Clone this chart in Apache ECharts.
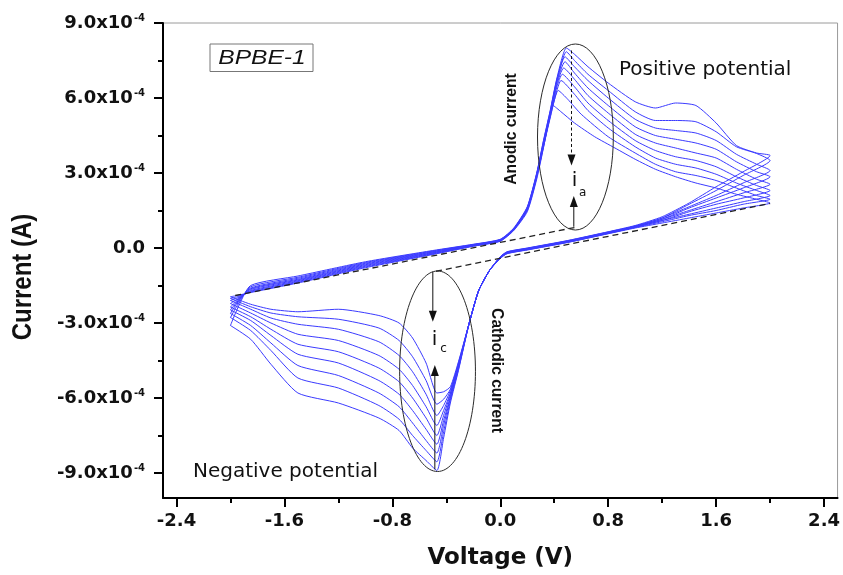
<!DOCTYPE html>
<html>
<head>
<meta charset="utf-8">
<script src="https://cdn.jsdelivr.net/npm/echarts@6.0.0/dist/echarts.min.js"></script>
<style>
html,body{margin:0;padding:0;background:#fff;}
#chart{width:843px;height:575px;}
</style>
</head>
<body>
<div id="chart"></div>
<script>
// Current values are in units of 1e-4 A; voltage in V.
// Each cycle is a closed loop in scan order: left vertex -> anodic sweep -> right vertex -> cathodic sweep -> left vertex.
const cycle1 = [[-2.0,-3.1],[-1.95,-2.45],[-1.85,-1.5],[-1.5,-1.12],[-1.0,-0.55],[-0.5,-0.1],[-0.2,0.15],[0.0,0.35],[0.1,0.8],[0.2,1.65],[0.27,3.0],[0.32,4.3],[0.37,5.5],[0.42,6.8],[0.49,8.0],
  [0.55,7.75],[0.65,7.25],[0.8,6.6],[1.0,5.85],[1.15,5.6],[1.3,5.8],[1.45,5.7],[1.6,5.0],[1.75,4.1],[1.9,3.8],[2.0,3.7],
  [1.8,3.05],[1.6,2.45],[1.4,1.8],[1.2,1.25],[1.0,0.9],[0.8,0.65],[0.5,0.3],[0.2,0.0],[0.05,-0.15],[0.0,-0.35],[-0.08,-0.9],[-0.16,-1.7],[-0.23,-3.0],[-0.31,-4.9],[-0.37,-6.2],[-0.42,-7.6],[-0.47,-8.9],
  [-0.55,-8.5],[-0.65,-8.0],[-0.75,-7.3],[-0.9,-6.8],[-1.2,-6.2],[-1.5,-5.8],[-1.7,-4.65],[-1.85,-3.65],[-2.0,-3.1]];
const cycle2 = [[-2.0,-2.78],[-1.95,-2.3],[-1.85,-1.55],[-1.5,-1.17],[-1.0,-0.58],[-0.5,-0.12],[-0.2,0.14],[0.0,0.34],[0.1,0.78],[0.2,1.63],[0.27,2.98],[0.32,4.27],[0.37,5.47],[0.42,6.75],[0.49,7.85],
  [0.55,7.5],[0.65,6.95],[0.8,6.3],[1.0,5.45],[1.15,5.1],[1.3,5.1],[1.45,5.05],[1.6,4.65],[1.75,4.05],[1.9,3.78],[2.0,3.5],
  [1.8,2.9],[1.6,2.3],[1.4,1.75],[1.2,1.2],[1.0,0.88],[0.8,0.64],[0.5,0.29],[0.2,-0.01],[0.05,-0.16],[0.0,-0.35],[-0.08,-0.9],[-0.16,-1.7],[-0.23,-3.0],[-0.31,-4.85],[-0.37,-6.1],[-0.42,-7.35],[-0.47,-8.55],
  [-0.55,-8.1],[-0.65,-7.5],[-0.75,-6.85],[-0.9,-6.3],[-1.2,-5.6],[-1.5,-5.2],[-1.7,-4.1],[-1.85,-3.3],[-2.0,-2.78]];
const cycle3 = [[-2.0,-2.62],[-1.95,-2.2],[-1.85,-1.6],[-1.5,-1.21],[-1.0,-0.61],[-0.5,-0.14],[-0.2,0.13],[0.0,0.33],[0.1,0.77],[0.2,1.6],[0.27,2.95],[0.32,4.22],[0.37,5.42],[0.42,6.7],[0.48,7.65],
  [0.55,7.25],[0.65,6.7],[0.8,6.0],[1.0,5.15],[1.15,4.8],[1.3,4.7],[1.45,4.6],[1.6,4.3],[1.75,3.75],[1.9,3.35],[2.0,3.1],
  [1.8,2.6],[1.6,2.1],[1.4,1.65],[1.2,1.2],[1.0,0.87],[0.8,0.63],[0.5,0.28],[0.2,-0.02],[0.05,-0.17],[0.0,-0.36],[-0.08,-0.9],[-0.16,-1.7],[-0.23,-3.0],[-0.31,-4.8],[-0.37,-6.0],[-0.42,-7.1],[-0.47,-8.2],
  [-0.55,-7.7],[-0.65,-7.0],[-0.75,-6.35],[-0.9,-5.8],[-1.2,-5.1],[-1.5,-4.7],[-1.7,-3.8],[-1.85,-3.1],[-2.0,-2.62]];
const cycle4 = [[-2.0,-2.48],[-1.95,-2.15],[-1.85,-1.63],[-1.5,-1.25],[-1.0,-0.64],[-0.5,-0.16],[-0.2,0.12],[0.0,0.32],[0.1,0.76],[0.2,1.58],[0.27,2.92],[0.32,4.18],[0.37,5.38],[0.42,6.65],[0.48,7.45],
  [0.55,7.0],[0.65,6.4],[0.8,5.7],[1.0,4.85],[1.15,4.5],[1.3,4.35],[1.45,4.2],[1.6,3.95],[1.75,3.45],[1.9,3.05],[2.0,2.85],
  [1.8,2.4],[1.6,2.0],[1.4,1.6],[1.2,1.15],[1.0,0.86],[0.8,0.62],[0.5,0.27],[0.2,-0.03],[0.05,-0.18],[0.0,-0.37],[-0.08,-0.9],[-0.16,-1.7],[-0.23,-3.0],[-0.31,-4.75],[-0.37,-5.95],[-0.42,-6.9],[-0.47,-7.85],
  [-0.55,-7.25],[-0.65,-6.5],[-0.75,-5.85],[-0.9,-5.3],[-1.2,-4.6],[-1.5,-4.25],[-1.7,-3.5],[-1.85,-2.9],[-2.0,-2.48]];
const cycle5 = [[-2.0,-2.36],[-1.95,-2.1],[-1.85,-1.66],[-1.5,-1.28],[-1.0,-0.67],[-0.5,-0.18],[-0.2,0.11],[0.0,0.31],[0.1,0.75],[0.2,1.56],[0.27,2.9],[0.32,4.14],[0.37,5.34],[0.42,6.55],[0.47,7.2],
  [0.55,6.75],[0.65,6.1],[0.8,5.4],[1.0,4.55],[1.15,4.2],[1.3,4.0],[1.45,3.8],[1.6,3.6],[1.75,3.15],[1.9,2.75],[2.0,2.55],
  [1.8,2.2],[1.6,1.85],[1.4,1.5],[1.2,1.15],[1.0,0.85],[0.8,0.61],[0.5,0.26],[0.2,-0.04],[0.05,-0.19],[0.0,-0.38],[-0.08,-0.9],[-0.16,-1.7],[-0.23,-3.0],[-0.31,-4.7],[-0.37,-5.85],[-0.42,-6.7],[-0.47,-7.5],
  [-0.55,-6.8],[-0.65,-6.0],[-0.75,-5.35],[-0.9,-4.8],[-1.2,-4.15],[-1.5,-3.85],[-1.7,-3.25],[-1.85,-2.75],[-2.0,-2.36]];
const cycle6 = [[-2.0,-2.22],[-1.95,-2.05],[-1.85,-1.7],[-1.5,-1.31],[-1.0,-0.7],[-0.5,-0.2],[-0.2,0.1],[0.0,0.3],[0.1,0.74],[0.2,1.54],[0.27,2.87],[0.32,4.1],[0.37,5.3],[0.42,6.45],[0.46,6.95],
  [0.55,6.45],[0.65,5.8],[0.8,5.1],[1.0,4.3],[1.15,3.9],[1.3,3.65],[1.45,3.5],[1.6,3.25],[1.75,2.85],[1.9,2.5],[2.0,2.3],
  [1.8,2.0],[1.6,1.75],[1.4,1.45],[1.2,1.1],[1.0,0.84],[0.8,0.6],[0.5,0.25],[0.2,-0.05],[0.05,-0.2],[0.0,-0.39],[-0.08,-0.9],[-0.16,-1.7],[-0.23,-3.0],[-0.31,-4.7],[-0.37,-5.8],[-0.42,-6.5],[-0.47,-7.1],
  [-0.55,-6.35],[-0.65,-5.5],[-0.75,-4.85],[-0.9,-4.3],[-1.2,-3.7],[-1.5,-3.45],[-1.7,-3.0],[-1.85,-2.6],[-2.0,-2.22]];
const cycle7 = [[-2.0,-2.1],[-1.95,-2.0],[-1.85,-1.73],[-1.5,-1.34],[-1.0,-0.73],[-0.5,-0.22],[-0.2,0.09],[0.0,0.29],[0.1,0.73],[0.2,1.52],[0.27,2.85],[0.32,4.06],[0.37,5.25],[0.42,6.3],[0.45,6.7],
  [0.55,6.15],[0.65,5.5],[0.8,4.8],[1.0,4.05],[1.15,3.6],[1.3,3.35],[1.45,3.2],[1.6,2.95],[1.75,2.6],[1.9,2.3],[2.0,2.1],
  [1.8,1.85],[1.6,1.6],[1.4,1.35],[1.2,1.1],[1.0,0.83],[0.8,0.59],[0.5,0.24],[0.2,-0.06],[0.05,-0.21],[0.0,-0.4],[-0.08,-0.9],[-0.16,-1.7],[-0.23,-3.0],[-0.31,-4.65],[-0.37,-5.7],[-0.42,-6.3],[-0.47,-6.7],
  [-0.55,-5.85],[-0.65,-4.95],[-0.75,-4.3],[-0.9,-3.75],[-1.2,-3.25],[-1.5,-3.05],[-1.7,-2.8],[-1.85,-2.45],[-2.0,-2.1]];
const cycle8 = [[-2.0,-2.02],[-1.95,-1.95],[-1.85,-1.76],[-1.5,-1.37],[-1.0,-0.76],[-0.5,-0.24],[-0.2,0.08],[0.0,0.28],[0.1,0.72],[0.2,1.5],[0.27,2.82],[0.32,4.03],[0.37,5.2],[0.43,6.3],
  [0.5,5.95],[0.6,5.35],[0.8,4.45],[1.0,3.8],[1.15,3.35],[1.3,3.05],[1.45,2.9],[1.6,2.7],[1.75,2.4],[1.9,2.1],[2.0,1.95],
  [1.8,1.75],[1.6,1.5],[1.4,1.3],[1.2,1.05],[1.0,0.82],[0.8,0.58],[0.5,0.23],[0.2,-0.07],[0.05,-0.22],[0.0,-0.41],[-0.08,-0.9],[-0.16,-1.7],[-0.23,-3.0],[-0.31,-4.6],[-0.37,-5.65],[-0.42,-6.05],[-0.47,-6.25],
  [-0.55,-5.3],[-0.65,-4.35],[-0.75,-3.7],[-0.9,-3.2],[-1.2,-2.85],[-1.5,-2.75],[-1.7,-2.6],[-1.85,-2.35],[-2.0,-2.02]];
const cycle9 = [[-2.0,-1.95],[-1.95,-1.9],[-1.85,-1.78],[-1.5,-1.4],[-1.0,-0.79],[-0.5,-0.26],[-0.2,0.07],[0.0,0.27],[0.1,0.7],[0.2,1.45],[0.27,2.75],[0.32,4.0],[0.36,5.1],[0.39,5.7],
  [0.45,5.45],[0.55,5.0],[0.7,4.45],[0.85,4.0],[1.0,3.55],[1.15,3.15],[1.3,2.85],[1.45,2.6],[1.6,2.4],[1.75,2.15],[1.9,1.95],[2.0,1.8],
  [1.8,1.6],[1.6,1.4],[1.4,1.2],[1.2,1.0],[1.0,0.8],[0.8,0.57],[0.5,0.22],[0.2,-0.08],[0.05,-0.23],[0.0,-0.42],[-0.08,-0.9],[-0.16,-1.7],[-0.23,-3.0],[-0.31,-4.55],[-0.37,-5.55],[-0.42,-5.75],[-0.47,-5.8],
  [-0.55,-4.6],[-0.65,-3.6],[-0.75,-3.0],[-0.9,-2.7],[-1.2,-2.45],[-1.5,-2.55],[-1.7,-2.45],[-1.85,-2.25],[-2.0,-1.95]];

// Dashed baselines used to read the peak currents
const baselineAnodic = [[-1.965,-1.9],[0.56,0.83]];
const baselineCathodic = [[-0.476,-0.93],[2.0,1.78]];

// Axis ticks
const xMajorTicks = [-2.4,-1.6,-0.8,0.0,0.8,1.6,2.4];
const xMinorTicks = [-2.0,-1.2,-0.4,0.4,1.2,2.0];
const yMajorTicks = [-9,-6,-3,0,3,6,9];
const yMinorTicks = [-7.5,-4.5,-1.5,1.5,4.5,7.5];

const cycles = [cycle1,cycle2,cycle3,cycle4,cycle5,cycle6,cycle7,cycle8,cycle9];

const chart = echarts.init(document.getElementById('chart'), null, {renderer:'canvas'});
const FONT = 'DejaVu Sans';
const TXT = '#111';

const series = cycles.map((c,i) => ({
  type:'line', name:'cycle ' + (i+1), data:c, xAxisIndex:0, yAxisIndex:0,
  symbol:'none', smooth:0.2, silent:true,
  lineStyle:{color:'#3b3bff', width:1}
}));
[baselineAnodic, baselineCathodic].forEach(b => series.push({
  type:'line', data:b, symbol:'none', silent:true, z:3,
  lineStyle:{color:'#222', width:1.3, type:[6,4]}
}));

const option = {
  backgroundColor:'#ffffff',
  animation:false,
  grid:{left:163, right:3, top:23, bottom:77, show:true, borderColor:'#9a9a9a', borderWidth:1, backgroundColor:'transparent'},
  xAxis:[{
    type:'value', min:-2.5, max:2.5, position:'bottom',
    axisLine:{show:true, onZero:false, lineStyle:{color:'#000', width:2}},
    axisTick:{show:true, inside:false, length:9, customValues:xMajorTicks, lineStyle:{color:'#000', width:2}},
    axisLabel:{customValues:xMajorTicks, margin:14, color:TXT, fontFamily:FONT, fontWeight:'bold', fontSize:18,
      formatter:v => v.toFixed(1)},
    splitLine:{show:false},
    name:'Voltage (V)', nameLocation:'middle', nameGap:49,
    nameTextStyle:{color:TXT, fontFamily:FONT, fontWeight:'bold', fontSize:23}
  },{
    type:'value', min:-2.5, max:2.5, position:'bottom',
    axisLine:{show:false, onZero:false},
    axisTick:{show:true, inside:false, length:5, customValues:xMinorTicks, lineStyle:{color:'#000', width:2}},
    axisLabel:{show:false}, splitLine:{show:false}
  }],
  yAxis:[{
    type:'value', min:-10, max:9, position:'left',
    axisLine:{show:true, onZero:false, lineStyle:{color:'#000', width:2}},
    axisTick:{show:true, inside:false, length:9, customValues:yMajorTicks, lineStyle:{color:'#000', width:2}},
    axisLabel:{customValues:yMajorTicks, margin:18, color:TXT,
      formatter:v => Math.abs(v) < 1e-9 ? '{m|0.0}' : '{m|' + v.toFixed(1) + 'x10}{s|-4}',
      rich:{
        m:{fontFamily:FONT, fontWeight:'bold', fontSize:18, color:TXT},
        s:{fontFamily:FONT, fontWeight:'bold', fontSize:10, color:TXT, verticalAlign:'top', padding:[0,0,9,1]}
      }},
    splitLine:{show:false}
  },{
    type:'value', min:-10, max:9, position:'left',
    axisLine:{show:false, onZero:false},
    axisTick:{show:true, inside:false, length:5, customValues:yMinorTicks, lineStyle:{color:'#000', width:2}},
    axisLabel:{show:false}, splitLine:{show:false}
  }],
  series:series
};
chart.setOption(option);

// ---- annotations (positioned in data coordinates) ----
const P = (x,y) => chart.convertToPixel({gridIndex:0}, [x,y]);
function ellipse(cx, cy, rx, ry){
  const c = P(cx,cy), e = P(cx+rx, cy+ry);
  return {type:'ellipse', silent:true, z:10, shape:{cx:c[0], cy:c[1], rx:Math.abs(e[0]-c[0]), ry:Math.abs(c[1]-e[1])},
    style:{fill:'none', stroke:'#2a2a2a', lineWidth:1}};
}
function arrow(x, y0, y1, dashed){
  const a = P(x,y0), b = P(x,y1);
  const dir = Math.sign(b[1]-a[1]);
  const headLen = 11, headW = 4;
  return [
    {type:'line', silent:true, z:10, shape:{x1:a[0], y1:a[1], x2:b[0], y2:b[1]-dir*headLen*0.8},
      style:{stroke:'#111', lineWidth:1, lineDash: dashed ? [3,2.5] : null}},
    {type:'polygon', silent:true, z:10, shape:{points:[[b[0]-headW, b[1]-dir*headLen],[b[0]+headW, b[1]-dir*headLen],[b[0], b[1]]]},
      style:{fill:'#111'}}
  ];
}
function txt(x, y, text, st, extra){
  return Object.assign({type:'text', silent:true, z:12, x:x, y:y,
    style:Object.assign({text:text, fill:TXT, align:'center', verticalAlign:'middle'}, st)}, extra || {});
}

const ia = P(0.558, 2.55), ic = P(-0.48, -3.75);
const graphic = [].concat(
  [ellipse(0.557, 4.44, 0.281, 3.72), ellipse(-0.465, -4.93, 0.281, 4.01)],
  arrow(0.528, 7.9, 3.3, true),
  arrow(0.545, 0.85, 2.08, false),
  arrow(-0.5, -0.95, -2.95, false),
  arrow(-0.485, -8.85, -4.68, false),
  [
    txt(ia[0]-1, ia[1]-3, 'i', {fontFamily:FONT, fontSize:20}),
    txt(ia[0]+7, ia[1]+9, 'a', {fontFamily:FONT, fontSize:12}),
    txt(ic[0]-1, ic[1]-2, 'i', {fontFamily:FONT, fontSize:20}),
    txt(ic[0]+8, ic[1]+7, 'c', {fontFamily:FONT, fontSize:12}),
    txt(23, 277, 'Current (A)', {fontFamily:'Liberation Sans', fontWeight:'bold', fontSize:24}, {rotation:Math.PI/2, scaleY:1.15}),
    txt(511.5, 129, 'Anodic current', {fontFamily:'Liberation Sans', fontWeight:'bold', fontSize:15.7}, {rotation:Math.PI/2, scaleY:1.1}),
    txt(496.5, 370.5, 'Cathodic current', {fontFamily:'Liberation Sans', fontWeight:'bold', fontSize:15.6}, {rotation:-Math.PI/2, scaleY:1.1}),
    txt(619, 70, 'Positive potential', {fontFamily:FONT, fontSize:20, align:'left'}),
    txt(193, 471.5, 'Negative potential', {fontFamily:FONT, fontSize:20, align:'left'}),
    {type:'rect', silent:true, z:11, shape:{x:210, y:44, width:103, height:27.5}, style:{fill:'#fff', stroke:'#777', lineWidth:1}},
    txt(262, 58, 'BPBE-1', {fontFamily:'Liberation Sans', fontStyle:'italic', fontSize:21}, {scaleX:1.17})
  ]
);
chart.setOption({graphic:graphic});
</script>
</body>
</html>
